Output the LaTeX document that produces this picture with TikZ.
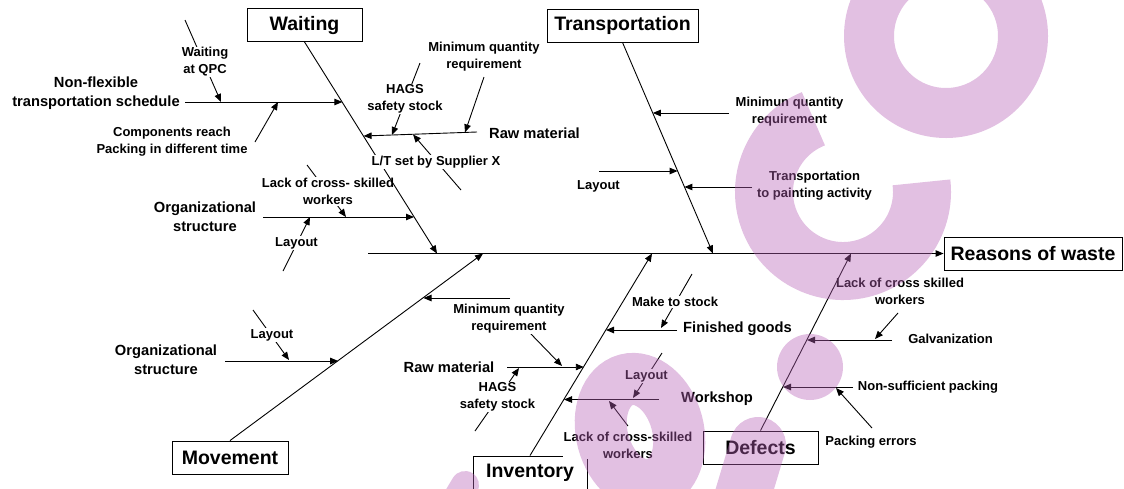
\documentclass[tikz,border=0pt]{standalone}
\usepackage{fontspec}
\setmainfont{Liberation Sans}
\usepackage{xcolor}
\usepackage{tikz}
\usetikzlibrary{calc,arrows.meta}
\definecolor{ink}{HTML}{000000}
\definecolor{wmark}{HTML}{B762B7}
\newcommand{\BoxFont}{\fontsize{19.5}{22}\selectfont\bfseries}
\newcommand{\MainFont}{\fontsize{14.7}{19}\selectfont\bfseries}
\newcommand{\SubFont}{\fontsize{13}{17}\selectfont\bfseries}
\tikzset{
  headbox/.style={draw=ink,fill=white,line width=0.9pt,minimum height=33pt,inner sep=0pt,font=\BoxFont},
  main/.style={font=\MainFont,align=center,inner sep=1pt},
  sub/.style={font=\SubFont,align=center,fill=white,inner sep=1pt},
  arr/.style={-{Triangle[length=8pt,width=6.5pt]},line width=0.9pt,color=ink},
  wm/.style={draw=wmark,opacity=0.4},
}

\begin{document}
\begin{tikzpicture}[x=1pt,y=-1pt]
  \useasboundingbox (0,0) rectangle (1124,488);

  \node[headbox,minimum width=115pt] (wait) at (304.5,25) {Waiting};
  \node[headbox,minimum width=151pt] (trans) at (622.5,25.5) {Transportation};
  \node[headbox,minimum width=178pt] (rw) at (1033,253.5) {Reasons of waste};
  \node[headbox,minimum width=116pt] (move) at (230,457.5) {Movement};
  \node[headbox,minimum width=114pt,minimum height=34pt] (inv) at (530,473) {Inventory};
  \node[headbox,minimum width=115pt] (defx) at (760.5,447.5) {Defects};

  \coordinate (tail) at (368,253.5);
  \coordinate (wEnd) at (437,253.5);
  \coordinate (tEnd) at (713,253.5);
  \coordinate (mEnd) at (483,253.5);
  \coordinate (iEnd) at (652,253.5);
  \coordinate (dEnd) at (851,253.5);

  \coordinate (wNF) at (185,102);   \coordinate (wB1) at (342.4,102);
  \coordinate (wQa) at (185,20);    \coordinate (wQb) at (221,102);
  \coordinate (wCa) at (255,142);   \coordinate (wCb) at (278,102);
  \coordinate (wRa) at (477,132);   \coordinate (wB2) at (363.6,136);
  \coordinate (wMa) at (484,77);    \coordinate (wMb) at (465,132.4);
  \coordinate (wHa) at (420,63);    \coordinate (wHb) at (392,135);
  \coordinate (wLa) at (461,190);   \coordinate (wLb) at (413,134.4);
  \coordinate (wOa) at (263,217);   \coordinate (wB3) at (414,217);
  \coordinate (wKa) at (307,165);   \coordinate (wKb) at (346,217);
  \coordinate (wYa) at (283,271);   \coordinate (wYb) at (310,217);

  \coordinate (tMa) at (729,113);   \coordinate (tB1) at (652.8,113);
  \coordinate (tYa) at (599,171);   \coordinate (tB2) at (677.6,171);
  \coordinate (tPa) at (752,187);   \coordinate (tB3) at (684.4,187);

  \coordinate (mOa) at (225,361);   \coordinate (mB1) at (338.2,361);
  \coordinate (mYa) at (253,310);   \coordinate (mYb) at (289,360);
  \coordinate (mMa) at (510,298);   \coordinate (mB2) at (423.5,298);

  \coordinate (iRa) at (507,367);   \coordinate (iB1) at (583.8,367);
  \coordinate (iMa) at (530,333);   \coordinate (iMb) at (562,366);
  \coordinate (iHa) at (475,431);   \coordinate (iHb) at (519,368);
  \coordinate (iFa) at (677,330);   \coordinate (iB2) at (606,330);
  \coordinate (iSa) at (692,274);   \coordinate (iSb) at (661,328);
  \coordinate (iWa) at (659,399.5); \coordinate (iB3) at (564,399.5);
  \coordinate (iYa) at (662,353);   \coordinate (iYb) at (633,398);
  \coordinate (iKa) at (628,426);   \coordinate (iKb) at (609,401);

  \coordinate (dKa) at (898,313);   \coordinate (dKb) at (875,339);
  \coordinate (dGa) at (892,340);   \coordinate (dB1) at (807,340);
  \coordinate (dNa) at (853,387);   \coordinate (dB2) at (783,387);
  \coordinate (dPa) at (872,428);   \coordinate (dPb) at (836,388);

  \draw[arr] (wNF)--(wB1);
  \draw[arr] (wQa)--(wQb);
  \draw[arr] (wCa)--(wCb);
  \draw[arr] (wRa)--(wB2);
  \draw[arr] (wMa)--(wMb);
  \draw[arr] (wHa)--(wHb);
  \draw[arr] (wLa)--(wLb);
  \draw[arr] (wOa)--(wB3);
  \draw[arr] (wKa)--(wKb);
  \draw[arr] (wYa)--(wYb);

  \draw[arr] (tMa)--(tB1);
  \draw[arr] (tYa)--(tB2);
  \draw[arr] (tPa)--(tB3);

  \draw[arr] (mOa)--(mB1);
  \draw[arr] (mYa)--(mYb);
  \draw[arr] (mMa)--(mB2);

  \draw[arr] (iRa)--(iB1);
  \draw[arr] (iMa)--(iMb);
  \draw[arr] (iHa)--(iHb);
  \draw[arr] (iFa)--(iB2);
  \draw[arr] (iSa)--(iSb);
  \draw[arr] (iWa)--(iB3);
  \draw[arr] (iYa)--(iYb);
  \draw[arr] (iKa)--(iKb);

  \draw[arr] (dKa)--(dKb);
  \draw[arr] (dGa)--(dB1);
  \draw[arr] (dNa)--(dB2);
  \draw[arr] (dPa)--(dPb);

  \node[main] (wNFt) at (96,93) {Non-flexible\\transportation schedule};
  \node[sub] (wQt) at (205,62) {Waiting\\at QPC};
  \node[sub] (wCt) at (172,142) {Components reach\\Packing in different time};
  \node[main] (wRt) at (534.5,133) {Raw material};
  \node[sub] (wMt) at (484,56.5) {Minimum quantity\\requirement};
  \node[sub] (wHt) at (405,99) {HAGS\\safety stock};
  \node[main] (wOt) at (205,217) {Organizational\\structure};
  \node[sub] (wKt) at (328,191.5) {Lack of cross- skilled\\workers};
  \node[sub] (wYt) at (296.5,243) {Layout};

  \node[sub] (tMt) at (789.5,112) {Minimun quantity\\requirement};
  \node[sub] (tYt) at (598.5,186) {Layout};
  \node[sub] (tPt) at (814.5,186) {Transportation\\to painting activity};

  \node[main] (mOt) at (166,359.5) {Organizational\\structure};
  \node[sub] (mYt) at (272,335) {Layout};
  \node[sub] (mMt) at (509,318.5) {Minimum quantity\\requirement};

  \node[main] (iRt) at (449,367) {Raw material};
  \node[sub] (iHt) at (497.5,397) {HAGS\\safety stock};
  \node[main] (iFt) at (737.5,329) {Finished goods};
  \node[sub] (iSt) at (675,302) {Make to stock};
  \node[main] (iWt) at (717,398.5) {Workshop};
  \node[sub] (iYt) at (646.5,376) {Layout};
  \node[sub] (iKt) at (628,445) {Lack of cross-skilled\\workers};

  \node[sub] (dKt) at (900,291.5) {Lack of cross skilled\\workers};
  \node[sub] (dGt) at (950.5,339) {Galvanization};
  \node[sub] (dNt) at (928,387) {Non-sufficient packing};
  \node[sub] (dPt) at (871,442) {Packing errors};

  \draw[arr] (tail)--(rw.west);
  \draw[arr] (wait.south)--(wEnd);
  \draw[arr] (trans.south)--(tEnd);
  \draw[arr] (move.north)--(mEnd);
  \draw[arr] (inv.north)--(iEnd);
  \draw[arr] (defx.north)--(dEnd);

  \node[sub] (wLt) at (436,162) {L/T set by Supplier X};

  \draw[wm,line width=50pt] (946,36) circle[radius=77];
  \draw[wm,line width=58pt] (843,192) ++(-112:79) arc[start angle=-112,end angle=-367,radius=79];
  \fill[wmark,opacity=0.4] (810,367) circle[radius=33];
  \draw[wm,line width=52pt,rotate around={15:(640,432)}] (640,432) ellipse[x radius=38,y radius=54];
  \draw[wm,line width=56pt,line cap=round] (758,445)--(740,505);
  \draw[wm,line width=28pt,line cap=round] (465,485)--(450,510);
\end{tikzpicture}
\end{document}
